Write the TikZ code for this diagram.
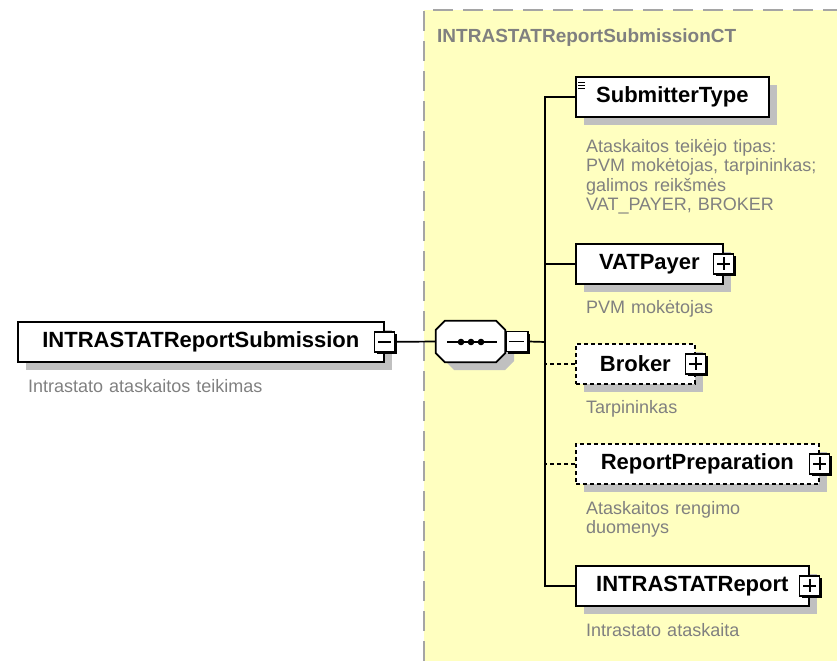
\documentclass[tikz,border=0pt]{standalone}
\usepackage{fontspec}
\setmainfont{Liberation Sans}
\usetikzlibrary{shadows}
\definecolor{bgyellow}{RGB}{255,255,192}
\definecolor{framegray}{RGB}{165,165,165}
\definecolor{shadowgray}{RGB}{192,192,192}
\definecolor{descgray}{RGB}{128,128,128}
\begin{document}
\begin{tikzpicture}[x=1pt,y=-1pt,
  elembox/.style={draw=black,line width=1.7pt,fill=white,rectangle,minimum height=40pt,inner sep=0pt,anchor=north west,
    font=\bfseries\fontsize{22}{26}\selectfont,
    drop shadow={shadow xshift=8pt,shadow yshift=-8pt,fill=shadowgray,opacity=1}},
  optbox/.style={elembox,dash pattern=on 4pt off 3pt},
  togglebox/.style={draw=black,line width=1.5pt,fill=white,rectangle,minimum size=20pt,inner sep=0pt,
    drop shadow={shadow xshift=2.2pt,shadow yshift=-2.2pt,fill=black,opacity=1}},
  plusbox/.style={togglebox,path picture={\draw[line width=1.7pt]
      ([xshift=3.5pt]path picture bounding box.west) -- ([xshift=-3.5pt]path picture bounding box.east)
      ([yshift=-3.5pt]path picture bounding box.north) -- ([yshift=3.5pt]path picture bounding box.south);}},
  minusbox/.style={togglebox,path picture={\draw[line width=1.7pt]
      ([xshift=3.5pt]path picture bounding box.west) -- ([xshift=-3.5pt]path picture bounding box.east);}},
  seqbox/.style={rectangle,minimum width=69pt,minimum height=41pt,inner sep=0pt},
  desc/.style={anchor=base west,inner sep=0pt,text=descgray,align=left,text width=240pt,
    font=\fontsize{18}{19.5}\selectfont},
  conn/.style={draw=black,line width=1.7pt},
  optconn/.style={conn,dash pattern=on 4pt off 3pt},
]
\useasboundingbox (0,0) rectangle (837,661);
% complex type background
\fill[bgyellow] (424,10) rectangle (837,661);
\draw[framegray,line width=2pt,dash pattern=on 20pt off 10pt] (424,661) -- (424,10) -- (837,10);
\node[anchor=base west,inner sep=0pt,text=descgray,font=\bfseries\fontsize{19}{22}\selectfont] (ctname) at (437,43) {INTRASTATReportSubmissionCT};

% root element
\node[elembox,minimum width=366pt] (root) at (17,321) {INTRASTATReportSubmission};
\node[minusbox] (rootm) at (root.east) {};
\node[desc] (rootd) at (28,392) {Intrastato ataskaitos teikimas};

% sequence compositor
\fill[shadowgray] (454,329) -- (505,329) -- (514,338) -- (514,361) -- (505,370) -- (454,370) -- (445,361) -- (445,338) -- cycle;
\node[seqbox] (seq) at (470.5,341.5) {};
\filldraw[fill=white,draw=black,line width=1.7pt]
  ([xshift=9pt]seq.north west) -- ([xshift=-9pt]seq.north east) -- ([yshift=-9pt]seq.north east)
  -- ([yshift=9pt]seq.south east) -- ([xshift=-9pt]seq.south east) -- ([xshift=9pt]seq.south west)
  -- ([yshift=9pt]seq.south west) -- ([yshift=-9pt]seq.north west) -- cycle;
\draw[line width=1.5pt] (447,342) -- (497,342);
\fill (461,342) circle (3.3) (471,342) circle (3.3) (481,342) circle (3.3);
\node[minusbox,minimum width=22pt,anchor=west] (seqm) at (seq.east) {};
\coordinate (bus) at (545,342);

% children
\node[elembox,minimum width=193pt] (sub) at (575,76) {SubmitterType};
\draw[line width=1pt] (578,82) -- (585,82) (578,85) -- (585,85) (578,88) -- (585,88);
\node[desc] (subd) at (586,152) {Ataskaitos teikėjo tipas:\\PVM mokėtojas, tarpininkas;\\galimos reikšmės\\VAT\_PAYER, BROKER};

\node[elembox,minimum width=147pt] (vat) at (575,243) {VATPayer};
\node[plusbox] (vatp) at (vat.east) {};
\node[desc] (vatd) at (586,313) {PVM mokėtojas};

\node[optbox,minimum width=119pt] (brk) at (575,343) {Broker};
\node[plusbox] (brkp) at (brk.east) {};
\node[desc] (brkd) at (586,413) {Tarpininkas};

\node[optbox,minimum width=243pt] (rep) at (575,443) {ReportPreparation};
\node[plusbox] (repp) at (rep.east) {};
\node[desc] (repd) at (586,514) {Ataskaitos rengimo\\duomenys};

\node[elembox,minimum width=233pt] (rpt) at (575,565) {INTRASTATReport};
\node[plusbox] (rptp) at (rpt.east) {};
\node[desc] (rptd) at (586,636) {Intrastato ataskaita};

% connectors
\draw[conn] (rootm.east) -- (seq.west);
\draw[conn] (seqm.east) -- (bus);
\draw[conn] (sub.west) -- (sub.west -| bus) -- (rpt.west -| bus) -- (rpt.west);
\draw[conn] (vat.west) -- (vat.west -| bus);
\draw[optconn] (brk.west) -- (brk.west -| bus);
\draw[optconn] (rep.west) -- (rep.west -| bus);
\end{tikzpicture}
\end{document}
